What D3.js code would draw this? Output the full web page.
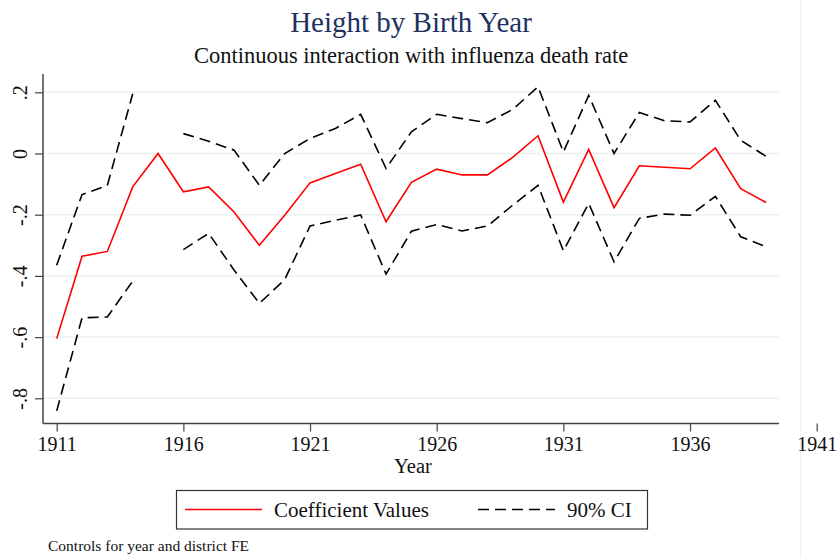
<!DOCTYPE html>
<html>
<head>
<meta charset="utf-8">
<script src="https://cdn.jsdelivr.net/npm/d3@7"></script>
<style>
  body { margin: 0; background: #fff; }
  svg { display: block; font-family: "Liberation Serif", "DejaVu Serif", serif; }
</style>
</head>
<body>
<svg id="chart" width="839" height="557"></svg>
<script>
// Chart data
var years = [1911, 1912, 1913, 1914, 1915, 1916, 1917, 1918, 1919, 1920,
             1921, 1922, 1923, 1924, 1925, 1926, 1927, 1928, 1929, 1930,
             1931, 1932, 1933, 1934, 1935, 1936, 1937, 1938, 1939];
var coefValues = [-0.605, -0.336, -0.320, -0.109, 0.000, -0.125, -0.109, -0.191, -0.300, -0.202,
                  -0.096, -0.065, -0.035, -0.223, -0.094, -0.051, -0.070, -0.070, -0.013, 0.058,
                  -0.159, 0.013, -0.177, -0.040, -0.045, -0.050, 0.018, -0.115, -0.160];
// 1915 is the omitted year, so no interval there
var ciUpper = [-0.365, -0.134, -0.104, 0.195, null, 0.065, 0.040, 0.011, -0.104, 0.000,
               0.049, 0.082, 0.128, -0.049, 0.071, 0.128, 0.114, 0.101, 0.144, 0.218,
               0.005, 0.190, 0.000, 0.134, 0.107, 0.103, 0.174, 0.043, -0.009];
var ciLower = [-0.841, -0.537, -0.534, -0.417, null, -0.314, -0.261, -0.381, -0.490, -0.412,
               -0.237, -0.218, -0.201, -0.394, -0.254, -0.232, -0.253, -0.237, -0.169, -0.104,
               -0.318, -0.163, -0.354, -0.212, -0.198, -0.202, -0.140, -0.272, -0.305];
var xTicks = [1911, 1916, 1921, 1926, 1931, 1936, 1941];
var yTicks = [-0.8, -0.6, -0.4, -0.2, 0, 0.2];

var titleText = "Height by Birth Year";
var subtitleText = "Continuous interaction with influenza death rate";
var xTitle = "Year";
var legendLabels = ["Coefficient Values", "90% CI"];
var noteText = "Controls for year and district FE";

var svg = d3.select("#chart");

// plot region
var plotLeft = 43, plotRight = 779, plotTop = 74, plotBottom = 423.5;

var x = d3.scaleLinear().domain([1911, 1941]).range([56.7, 816.7]);
var y = d3.scaleLinear().domain([-0.8, 0.2]).range([398.3, 92.3]);

// faint outer region edge on the right
svg.append("line")
    .attr("x1", 800.5).attr("x2", 800.5)
    .attr("y1", 0).attr("y2", 557)
    .attr("stroke", "#eef2f5").attr("stroke-width", 1);

// gridlines
svg.append("g").selectAll("line")
    .data(yTicks)
    .enter()
    .append("line")
    .attr("x1", plotLeft).attr("x2", plotRight)
    .attr("y1", d => y(d)).attr("y2", d => y(d))
    .attr("stroke", "#eaf1f4")
    .attr("stroke-width", 1.5);

// y axis
var yAxis = svg.append("g")
    .attr("transform", "translate(" + plotLeft + ",0)")
    .call(d3.axisLeft(y)
        .tickValues(yTicks)
        .tickSize(8)
        .tickFormat(function (d) {
            if (d === 0) return "0";
            return d3.format(".1f")(d).replace("−", "-").replace("0.", ".");
        }));
yAxis.select(".domain").remove();
yAxis.selectAll(".tick line").attr("stroke", "#444").attr("stroke-width", 1.2);
yAxis.selectAll(".tick text")
    .attr("x", 0).attr("dy", 0)
    .attr("text-anchor", "middle")
    .attr("transform", "translate(-16,0) rotate(-90)")
    .attr("font-size", 20)
    .attr("font-family", "Liberation Serif, serif")
    .attr("fill", "#111");
svg.append("line")
    .attr("x1", plotLeft).attr("x2", plotLeft)
    .attr("y1", plotTop).attr("y2", plotBottom)
    .attr("stroke", "#444").attr("stroke-width", 1.5);

// x axis
var xAxis = svg.append("g")
    .attr("transform", "translate(0," + plotBottom + ")")
    .call(d3.axisBottom(x)
        .tickValues(xTicks)
        .tickSize(8)
        .tickFormat(d3.format("d")));
xAxis.select(".domain").remove();
xAxis.selectAll(".tick line").attr("stroke", "#444").attr("stroke-width", 1.2);
xAxis.selectAll(".tick text")
    .attr("y", 27).attr("dy", 0)
    .attr("font-size", 20)
    .attr("font-family", "Liberation Serif, serif")
    .attr("fill", "#111");
svg.append("line")
    .attr("x1", plotLeft).attr("x2", plotRight)
    .attr("y1", plotBottom).attr("y2", plotBottom)
    .attr("stroke", "#444").attr("stroke-width", 1.5);

// series
var line = d3.line()
    .defined(d => d[1] !== null)
    .x(d => x(d[0]))
    .y(d => y(d[1]));

function pairs(vals) {
    return years.map((yr, i) => [yr, vals[i]]);
}

[ciUpper, ciLower].forEach(function (vals) {
    svg.append("path")
        .datum(pairs(vals))
        .attr("d", line)
        .attr("fill", "none")
        .attr("stroke", "#000")
        .attr("stroke-width", 1.6)
        .attr("stroke-dasharray", "11,6");
});

svg.append("path")
    .datum(pairs(coefValues))
    .attr("d", line)
    .attr("fill", "none")
    .attr("stroke", "#ff0000")
    .attr("stroke-width", 1.6);

// titles
svg.append("text")
    .attr("x", 411).attr("y", 32)
    .attr("text-anchor", "middle")
    .attr("font-size", 29)
    .attr("fill", "#1e3160")
    .text(titleText);
svg.append("text")
    .attr("x", 411).attr("y", 63)
    .attr("text-anchor", "middle")
    .attr("font-size", 22.5)
    .attr("fill", "#111")
    .text(subtitleText);
svg.append("text")
    .attr("x", 413).attr("y", 473)
    .attr("text-anchor", "middle")
    .attr("font-size", 20.5)
    .attr("fill", "#111")
    .text(xTitle);

// legend
var legend = svg.append("g");
legend.append("rect")
    .attr("x", 176.5).attr("y", 490.5)
    .attr("width", 471).attr("height", 38.5)
    .attr("fill", "#fff")
    .attr("stroke", "#333").attr("stroke-width", 1.2);
legend.append("line")
    .attr("x1", 185).attr("x2", 262)
    .attr("y1", 509.5).attr("y2", 509.5)
    .attr("stroke", "#ff0000").attr("stroke-width", 1.6);
legend.append("text")
    .attr("x", 274).attr("y", 516.5)
    .attr("font-size", 21)
    .attr("fill", "#111")
    .text(legendLabels[0]);
legend.append("line")
    .attr("x1", 478).attr("x2", 555)
    .attr("y1", 509.5).attr("y2", 509.5)
    .attr("stroke", "#000").attr("stroke-width", 1.6)
    .attr("stroke-dasharray", "11,6");
legend.append("text")
    .attr("x", 567).attr("y", 516.5)
    .attr("font-size", 21)
    .attr("fill", "#111")
    .text(legendLabels[1]);

// note
svg.append("text")
    .attr("x", 48).attr("y", 551)
    .attr("font-size", 15.5)
    .attr("fill", "#111")
    .text(noteText);
</script>
</body>
</html>
